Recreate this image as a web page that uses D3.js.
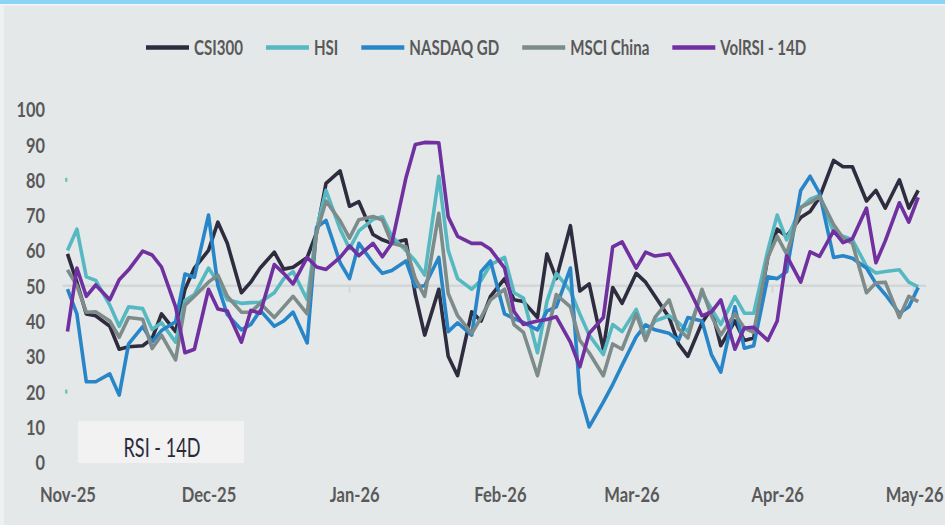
<!DOCTYPE html>
<html>
<head>
<meta charset="utf-8">
<script src="https://cdn.jsdelivr.net/npm/d3@7/dist/d3.min.js"></script>
<style>
  html, body { margin: 0; padding: 0; background: #e4e8e9; }
  svg { display: block; }
</style>
</head>
<body>
<div id="chart"></div>
<script>
// trading dates (sampled Mon/Wed/Fri)
var dates = [
  "2025-11-01","2025-11-03","2025-11-05","2025-11-07","2025-11-10","2025-11-12","2025-11-14","2025-11-17","2025-11-19","2025-11-21","2025-11-24","2025-11-26","2025-11-28",
  "2025-12-01","2025-12-03","2025-12-05","2025-12-08","2025-12-10","2025-12-12","2025-12-15","2025-12-17","2025-12-19","2025-12-22","2025-12-24","2025-12-26","2025-12-29","2025-12-31",
  "2026-01-02","2026-01-05","2026-01-07","2026-01-09","2026-01-12","2026-01-14","2026-01-16","2026-01-19","2026-01-21","2026-01-23","2026-01-26","2026-01-28","2026-01-30",
  "2026-02-02","2026-02-04","2026-02-06","2026-02-09","2026-02-11","2026-02-13","2026-02-16","2026-02-18","2026-02-20","2026-02-23","2026-02-25","2026-02-27",
  "2026-03-02","2026-03-04","2026-03-06","2026-03-09","2026-03-11","2026-03-13","2026-03-16","2026-03-18","2026-03-20","2026-03-23","2026-03-25","2026-03-27","2026-03-30",
  "2026-04-01","2026-04-03","2026-04-06","2026-04-08","2026-04-10","2026-04-13","2026-04-15","2026-04-17","2026-04-20","2026-04-22","2026-04-24","2026-04-27","2026-04-29",
  "2026-05-01"
];

var csi300 = [
  59, 51, 42, 41.5, 38.5, 32, 32.7, 33, 35, 42, 37, 49, 55,
  60, 68, 62, 48, 51, 55, 59.5, 54.7, 55.2, 58, 65, 79, 82.5, 72.5,
  73.8, 64.5, 63, 62, 63, 47.5, 36, 49, 30, 24.5, 42.6, 40, 47,
  52, 46, 45.5, 41, 59, 52, 67, 48.5, 50.5, 32, 49.5, 45,
  53.5, 51, 47, 41, 33.5, 30, 39.5, 43.5, 33, 40, 34.5, 35.2, 58,
  66, 64, 69.3, 71, 75, 85.5, 83.7, 83.7, 74, 77, 72, 80, 72,
  77
];
var hsi = [
  60, 66, 52.5, 51.5, 44.5, 38.5, 44, 43.5, 37.6, 39.5, 34, 45.8, 47.5,
  55, 51, 46, 45, 45.2, 45.3, 48, 52, 54, 46, 66, 77, 66, 60.5,
  65.5, 68.8, 69.5, 64, 60, 57, 53, 81, 60, 52, 49, 51.5, 56,
  58, 48, 46.5, 31, 45.5, 53.5, 48.5, 42, 36, 30.5, 39, 37,
  43.3, 36, 40, 41.5, 39.5, 37, 48, 43.5, 39, 46.9, 42.2, 42.2, 60,
  70, 63, 72, 74.5, 75.6, 65.2, 64, 63, 55.5, 53.6, 54, 54.5, 51,
  49.7
];
var nasdaqGd = [
  49, 42, 22.8, 22.8, 25, 19, 33.5, 38.4, 34.1, 37.3, 39.8, 53.3, 52.4,
  70, 50, 41.8, 37.5, 39, 43, 38.5, 40, 42.5, 33.8, 66.5, 68.5, 56.5, 52,
  62, 56.5, 53.5, 54.3, 57, 49.7, 50, 58, 37, 39.5, 36, 54, 57,
  42, 40.7, 39.6, 37.5, 42.8, 44, 55, 19.5, 10, 17, 22, 27.5,
  35.5, 38.9, 37.5, 36.5, 34.5, 41, 40, 30.5, 25.5, 44, 32.3, 33, 52.5,
  52, 54, 77, 81, 76.2, 58, 58.5, 57.8, 55, 50.6, 47.5, 42.2, 44,
  49.5
];
var msciChina = [
  54.5, 50, 42.5, 42.6, 40, 35.4, 41, 40.5, 32.2, 36, 29, 44.5, 47,
  51, 53, 47, 42.5, 42.5, 45, 41, 44, 47, 42, 65, 74, 68.4, 63.5,
  68.7, 69.6, 68.6, 62, 61, 52, 47, 70.5, 47.8, 41.5, 36.5, 41, 46,
  49, 39, 36.8, 24.5, 36, 47.5, 44, 34.5, 31, 24.5, 33.5, 32,
  42, 34.5, 41, 46, 37.8, 35.2, 49, 41.5, 36, 42, 38, 36.8, 58,
  64, 59, 72.2, 73.5, 75.3, 67.3, 63.5, 62, 48, 50.8, 51, 41, 47,
  45.5
];
var volRsi = [
  37, 55, 47, 50.2, 46, 51.7, 54.5, 59.8, 58.7, 55.3, 44, 31, 32,
  49, 43.4, 42.8, 34, 43, 42.2, 56, 53.5, 50.5, 58, 55.3, 54.6, 58, 61.3,
  58.5, 62, 58.2, 62, 80.5, 90, 90.6, 90.5, 69.5, 64, 62, 62, 60.3,
  55, 42.7, 39, 40, 40.4, 41.2, 34, 27, 36.5, 41, 61, 62.4,
  55, 59.5, 58.4, 59, 54.5, 49.7, 41.5, 42.5, 46, 32, 38, 38.2, 34.5,
  40, 58.5, 51, 59.6, 58.3, 65.5, 62.2, 63.3, 72, 56.5, 62.7, 73.5, 68,
  75
];

var seriesNames = ["CSI300", "HSI", "NASDAQ GD", "MSCI China", "VolRSI - 14D"];
var seriesValues = [csi300, hsi, nasdaqGd, msciChina, volRsi];
var seriesColors = ["#2e2c3e", "#56b9c2", "#2886c8", "#7d8b8b", "#7030a0"];

var yTicks = [0, 10, 20, 30, 40, 50, 60, 70, 80, 90, 100];
var monthTicks = ["2025-11-01","2025-12-01","2026-01-01","2026-02-01","2026-03-01","2026-04-01","2026-05-01"];
var monthEnds = ["2025-11-30","2025-12-31","2026-01-31","2026-02-28","2026-03-31","2026-04-30"];
var bandLevels = [80, 20];
var midLevel = 50;
var boxLabel = "RSI - 14D";

var W = 945, H = 525;
var parse = d3.timeParse("%Y-%m-%d");
var pDates = dates.map(parse);

var svg = d3.select("#chart").append("svg")
  .attr("width", W)
  .attr("height", H);

// background, top band, left strip
svg.append("rect").attr("width", W).attr("height", H).attr("fill", "#e4e8e9");
svg.append("rect").attr("width", W).attr("height", 4).attr("fill", "#8cd4f5");
svg.append("rect").attr("y", 4).attr("width", W).attr("height", 1.5).attr("fill", "#f3f5f6");
svg.append("rect").attr("y", 5).attr("width", 4).attr("height", H - 5).attr("fill", "#eef0f1");

var x = d3.scaleTime()
  .domain([parse(monthTicks[0]), parse(monthTicks[monthTicks.length - 1])])
  .range([67.5, 918.2]);
var y = d3.scaleLinear().domain([0, 100]).range([462.2, 109.2]);

var fontFam = "Lato, 'Open Sans', 'Liberation Sans', sans-serif";

// squeeze text horizontally to match the narrow look of the original
function squeezeFactor(str, size, weight, target) {
  var t = svg.append("text").attr("font-family", fontFam).attr("font-size", size)
    .attr("font-weight", weight).text(str);
  var w = t.node().getComputedTextLength();
  t.remove();
  return target / w;
}

// 50 line + little ticks under it
svg.append("line")
  .attr("x1", x(pDates[0]) - 5).attr("x2", 926)
  .attr("y1", y(midLevel)).attr("y2", y(midLevel))
  .attr("stroke", "#d3d6d7").attr("stroke-width", 2.5);

svg.selectAll(".mtick")
  .data(monthEnds.map(parse))
  .enter()
    .append("line")
      .attr("class", "mtick")
      .attr("x1", function(d){ return x(d); })
      .attr("x2", function(d){ return x(d); })
      .attr("y1", y(midLevel))
      .attr("y2", y(midLevel) + 7)
      .attr("stroke", "#d3d6d7")
      .attr("stroke-width", 2);

// tiny markers at 80 / 20
svg.selectAll(".bandmark")
  .data(bandLevels)
  .enter()
    .append("rect")
      .attr("class", "bandmark")
      .attr("x", x(pDates[0]) - 2.5)
      .attr("y", function(d){ return y(d) - 2; })
      .attr("width", 2.5)
      .attr("height", 4)
      .attr("fill", "#74c7ab");

// y axis
var kY = squeezeFactor("90", 21, "bold", 19);
var yAxis = svg.append("g")
  .attr("transform", "translate(45,0)")
  .call(d3.axisLeft(y).tickValues(yTicks).tickSize(0).tickPadding(0).tickFormat(d3.format("d")));
yAxis.select(".domain").remove();
yAxis.selectAll("text")
  .attr("x", 0)
  .attr("dy", "0.36em")
  .attr("font-family", fontFam)
  .attr("font-size", 21)
  .attr("font-weight", "bold")
  .attr("fill", "#595959")
  .attr("transform", "scale(" + kY + ",1)");

// x axis
var kX = squeezeFactor("Jan-26", 21, "bold", 50);
var xAxis = svg.append("g")
  .attr("transform", "translate(0,501.5)")
  .call(d3.axisBottom(x).tickValues(monthTicks.map(parse)).tickSize(0).tickPadding(0)
    .tickFormat(d3.timeFormat("%b-%y")));
xAxis.select(".domain").remove();
xAxis.selectAll("text")
  .attr("y", 0)
  .attr("dy", 0)
  .attr("font-family", fontFam)
  .attr("font-size", 21)
  .attr("font-weight", "bold")
  .attr("fill", "#595959")
  .attr("transform", "scale(" + kX + ",1)");
// keep the last label inside the picture
xAxis.selectAll(".tick").each(function(d) {
  var t = d3.select(this).select("text");
  var half = t.node().getComputedTextLength() * kX / 2;
  if (x(d) + half > W - 2) {
    t.attr("transform", "translate(" + (W - 2 - half - x(d)) + ",0) scale(" + kX + ",1)");
  }
});

// series lines
var line = d3.line()
  .x(function(d, i){ return x(pDates[i]); })
  .y(function(d){ return y(d); });

svg.selectAll(".series")
  .data(seriesValues)
  .enter()
    .append("path")
      .attr("class", "series")
      .attr("d", line)
      .attr("fill", "none")
      .attr("stroke", function(d, i){ return seriesColors[i]; })
      .attr("stroke-width", 3.6)
      .attr("stroke-linejoin", "round");

// legend
var kL = squeezeFactor("NASDAQ GD", 21, "bold", 90);
var lx = 146;
seriesNames.forEach(function(name, i) {
  svg.append("line")
    .attr("x1", lx).attr("x2", lx + 43)
    .attr("y1", 47.5).attr("y2", 47.5)
    .attr("stroke", seriesColors[i])
    .attr("stroke-width", 4.5);
  var t = svg.append("text")
    .attr("transform", "translate(" + (lx + 48) + ",55) scale(" + kL + ",1)")
    .attr("font-family", fontFam)
    .attr("font-size", 21)
    .attr("font-weight", "bold")
    .attr("fill", "#595959")
    .text(name);
  lx += 48 + t.node().getComputedTextLength() * kL + 23;
});

// RSI - 14D box
svg.append("rect")
  .attr("x", 78).attr("y", 421)
  .attr("width", 166).attr("height", 42)
  .attr("fill", "#f2f2f2");
var kB = squeezeFactor(boxLabel, 27, "normal", 77);
svg.append("text")
  .attr("transform", "translate(162,456.5) scale(" + kB + ",1)")
  .attr("text-anchor", "middle")
  .attr("font-family", fontFam)
  .attr("font-size", 27)
  .attr("fill", "#2b2a3d")
  .text(boxLabel);
</script>
</body>
</html>
